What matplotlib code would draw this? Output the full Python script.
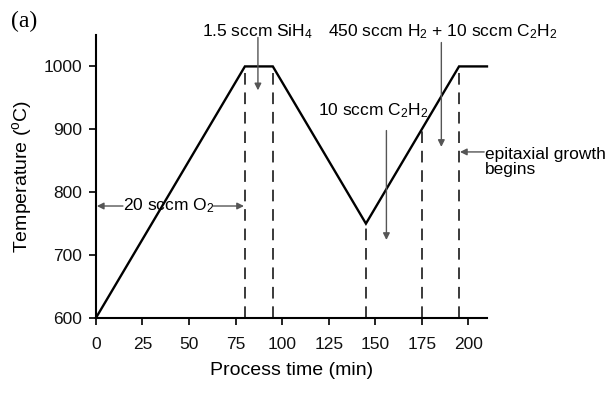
import matplotlib
matplotlib.use("Agg")
import matplotlib.pyplot as plt

plt.rcParams['font.family'] = ['Liberation Sans', 'DejaVu Sans']
plt.rcParams['mathtext.fontset'] = 'custom'
plt.rcParams['mathtext.rm'] = 'Liberation Sans'
plt.rcParams['mathtext.it'] = 'Liberation Sans'

# process profile
time_min = [0, 80, 95, 145, 195, 210]
temp_c = [600, 1000, 1000, 750, 1000, 1000]
# dashed markers (time, top temperature)
dash_times = [80, 95, 145, 175, 195]
dash_tops = [1000, 1000, 750, 900, 1000]
xticks = [0, 25, 50, 75, 100, 125, 150, 175, 200]
yticks = [600, 700, 800, 900, 1000]

fig = plt.figure(figsize=(6.11, 3.93), dpi=100)
ax = fig.add_axes([0.157, 0.191, 0.64, 0.72])

ax.plot(time_min, temp_c, color='black', lw=1.7, solid_joinstyle='miter', clip_on=False, zorder=3)
for t, top in zip(dash_times, dash_tops):
    ax.plot([t, t], [600, top], color='#3a3a3a', lw=1.4, dashes=(6, 4), zorder=2)

ax.set_xlim(0, 210)
ax.set_ylim(600, 1050)
ax.set_xticks(xticks)
ax.set_yticks(yticks)
for s in ['top', 'right']:
    ax.spines[s].set_visible(False)
for s in ['left', 'bottom']:
    ax.spines[s].set_linewidth(1.5)
ax.tick_params(direction='out', length=5, width=1.3, labelsize=12.5, pad=5, colors='#111111')
ax.tick_params(axis='x', pad=9)
ax.set_xlabel('Process time (min)', fontsize=14, labelpad=7)
ax.set_ylabel('Temperature ($^{o}$C)', fontsize=14, labelpad=7)

ac = '#555555'
arr = dict(arrowstyle='-|>', color=ac, lw=1.0, mutation_scale=10, shrinkA=0, shrinkB=0)
fs = 12.5

# SiH4
ax.text(87, 1056, '1.5 sccm SiH$_4$', ha='center', va='center', fontsize=fs, clip_on=False)
ax.annotate('', xy=(87, 962), xytext=(87, 1046), arrowprops=arr, annotation_clip=False)

# H2 + C2H2
ax.text(186, 1056, '450 sccm H$_2$ + 10 sccm C$_2$H$_2$', ha='center', va='center', fontsize=fs, clip_on=False)
ax.annotate('', xy=(185.5, 872), xytext=(185.5, 1038), arrowprops=arr, annotation_clip=False)

# C2H2
ax.text(149, 930, '10 sccm C$_2$H$_2$', ha='center', va='center', fontsize=fs)
ax.annotate('', xy=(156, 724), xytext=(156, 898), arrowprops=arr)

# epitaxial growth
ax.text(209, 848, 'epitaxial growth\nbegins', ha='left', va='center', fontsize=fs,
        linespacing=1.05, clip_on=False)
ax.annotate('', xy=(195.5, 864), xytext=(208.5, 864), arrowprops=arr, annotation_clip=False)

# O2
ax.text(39, 778, '20 sccm O$_2$', ha='center', va='center', fontsize=fs)
ax.annotate('', xy=(0.5, 778), xytext=(14.5, 778), arrowprops=arr)
ax.annotate('', xy=(79.5, 778), xytext=(63, 778), arrowprops=arr)

fig.text(0.018, 0.945, '(a)', fontsize=17, family='Liberation Serif', ha='left', va='center')

fig.savefig('out.png', dpi=100)
